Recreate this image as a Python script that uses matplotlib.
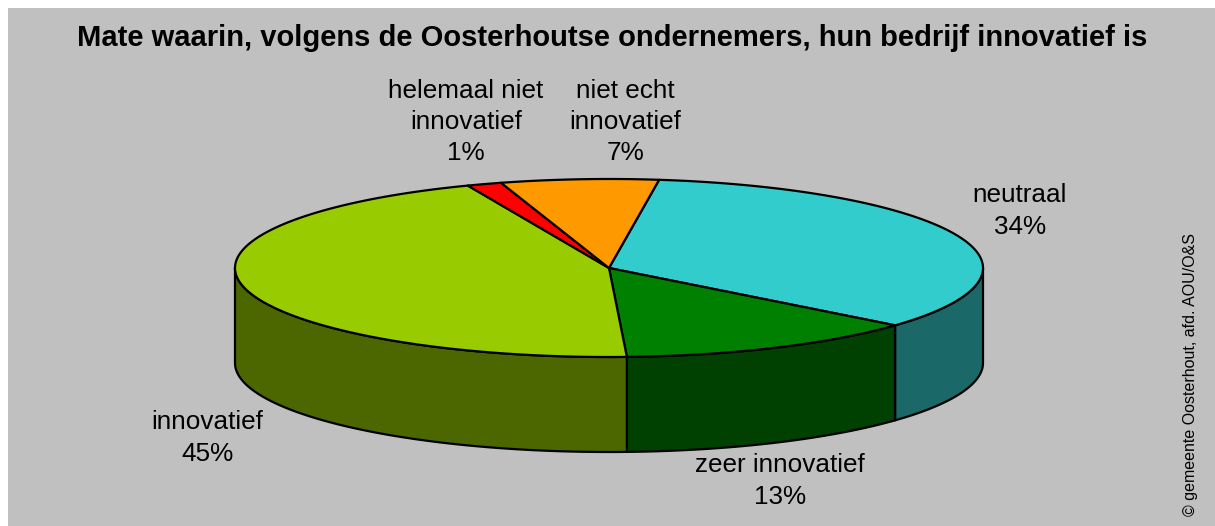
import matplotlib.pyplot as plt
from matplotlib.patches import Polygon, Rectangle
import numpy as np

plt.rcParams['font.family'] = ['Liberation Sans', 'DejaVu Sans']

# slices in clockwise order, starting near 12 o'clock
labels = ["neutraal", "zeer innovatief", "innovatief",
          "helemaal niet\ninnovatief", "niet echt\ninnovatief"]
shares = [34.0, 13.1, 44.6, 1.5, 6.8]
pct_labels = ["34%", "13%", "45%", "1%", "7%"]
top_colors = ["#33CCCC", "#008000", "#99CC00", "#FF0000", "#FF9900"]
side_colors = ["#1B6868", "#004000", "#4C6600", "#800000", "#804C00"]

title = "Mate waarin, volgens de Oosterhoutse ondernemers, hun bedrijf innovatief is"
credit = "\u00a9 gemeente Oosterhout, afd. AOU/O&S"

# geometry of the tilted pie (pixels)
cx, cy = 609, 268
rx, ry = 374, 89
depth = 95
start = 7.7

label_pos = [(1020, 211), (780, 481), (207, 438), (466, 122), (625, 122)]


def ell(t):
    t = np.radians(t)
    return cx + rx * np.sin(t), cy - ry * np.cos(t)


fig = plt.figure(figsize=(12.15, 5.26), dpi=100)
ax = fig.add_axes([0, 0, 1, 1])
ax.set_xlim(0, 1215)
ax.set_ylim(526, 0)
ax.axis("off")

ax.add_patch(Rectangle((8, 8), 1215, 526, facecolor="#C0C0C0", edgecolor="none"))

angles = start + np.concatenate([[0], np.cumsum(shares)]) / 100 * 360

# side walls (front half only)
for i in range(len(shares)):
    a, b = angles[i], angles[i + 1]
    lo, hi = max(a, 90), min(b, 270)
    if lo >= hi:
        continue
    t = np.linspace(lo, hi, 120)
    x, y = ell(t)
    pts = np.concatenate([np.column_stack([x, y]),
                          np.column_stack([x[::-1], y[::-1] + depth])])
    ax.add_patch(Polygon(pts, closed=True, facecolor=side_colors[i],
                         edgecolor="black", lw=1.6, joinstyle="round"))

# top faces
for i in range(len(shares)):
    t = np.linspace(angles[i], angles[i + 1], 200)
    x, y = ell(t)
    pts = np.vstack([[cx, cy], np.column_stack([x, y])])
    ax.add_patch(Polygon(pts, closed=True, facecolor=top_colors[i],
                         edgecolor="black", lw=1.6, joinstyle="round"))

for i in range(len(labels)):
    ax.text(label_pos[i][0], label_pos[i][1], labels[i] + "\n" + pct_labels[i],
            ha="center", va="center", fontsize=18.8, linespacing=1.37)

ax.text(612, 38, title, ha="center", va="center", fontsize=21, fontweight="bold")
ax.text(1190, 374, credit, ha="center", va="center", rotation=90, fontsize=11.5)

plt.savefig("out.png", dpi=100)
